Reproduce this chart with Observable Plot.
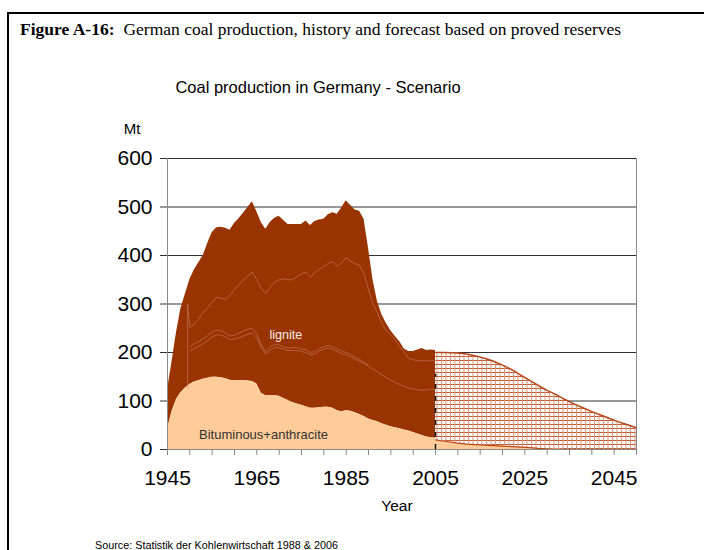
<!DOCTYPE html>
<html><head><meta charset="utf-8">
<script src="https://cdn.jsdelivr.net/npm/d3@7"></script>
<script src="https://cdn.jsdelivr.net/npm/@observablehq/plot@0.6"></script>
<style>
body{margin:0;background:#fff;}
#wrap{position:relative;width:704px;height:550px;overflow:hidden;font-family:"Liberation Sans",Arial,sans-serif;color:#000;}
.t{position:absolute;white-space:nowrap;line-height:1;}
#frame{position:absolute;left:7px;top:12px;width:720px;height:600px;border-top:2px solid #000;border-left:2px solid #000;}
#chart{position:absolute;left:0;top:0;}
</style></head><body>
<div id="wrap">
<div id="chart"></div>
<div id="frame"></div>
<div class="t" style="left:20px;top:21px;font-family:'Liberation Serif','Times New Roman',serif;font-size:17.5px;line-height:17px;"><b>Figure A-16:</b><span style="margin-left:9px">German coal production, history and forecast based on proved reserves</span></div>
<div class="t" style="left:318px;top:87px;transform:translate(-50%,-50%);font-size:16.5px;">Coal production in Germany - Scenario</div>
<div class="t" style="left:132px;top:128px;transform:translate(-50%,-50%);font-size:15px;">Mt</div>
<div class="t" style="left:397px;top:506px;transform:translate(-50%,-50%);font-size:15.5px;">Year</div>
<div class="t" style="left:95px;top:545px;transform:translate(0,-50%);font-size:10.8px;">Source: Statistik der Kohlenwirtschaft 1988 &amp; 2006</div>
</div>
<script>
// ---- data ----
const histYears = [1945,1946,1947,1948,1949,1950,1951,1952,1953,1954,1955,1956,1957,1958,1959,1960,1961,1962,1963,1964,1965,1966,1967,1968,1969,1970,1971,1972,1973,1974,1975,1976,1977,1978,1979,1980,1981,1982,1983,1984,1985,1986,1987,1988,1989,1990,1991,1992,1993,1994,1995,1996,1997,1998,1999,2000,2001,2002,2003,2004,2005];
const histTotal = [122,180,240,290,320,350,370,385,400,425,447,457,458,456,452,466,476,487,499,511,490,468,454,468,477,481,472,464,464,464,464,471,462,470,473,475,484,488,485,498,513,503,494,491,475,415,350,305,278,260,245,233,222,207,202,202,205,208,204,205,204];
const histBitum = [41,78,103,117,127,134,139,142,145,147,149,149,148,146,143,142,142,142,141,140,135,116,111,111,111,110,105,101,97,94,91,88,85,85,86,87,87,85,80,78,80,79,76,72,68,63,60,57,53,50,47,45,43,40,38,35,32,29,26,24,23];

const fcYears = [2005,2007,2010,2012,2014,2016,2018,2020,2022,2024,2026,2028,2030,2032,2034,2036,2038,2040,2042,2044,2046,2048,2050];
const fcTotal = [200,200,199,197,193,188,182,174,165,154,143,132,122,113,103,94,86,78,71,64,57,51,45];
const fcBitum = [20,17,13,11,10,9,8,7,6,5,4,2.5,1.5,0.5,0,0,0,0,0,0,0,0,0];

// thin internal lines within lignite band [year, Mt]
const lineUpper = [[1949.5,127],[1949.5,300],[1950,252],[1951,258],[1952,270],[1953,282],[1954,293],[1955,304],[1956,314],[1957,312],[1958,309],[1959,318],[1960,330],[1961,340],[1962,350],[1963,358],[1964,366],[1965,350],[1966,332],[1967,322],[1968,335],[1969,345],[1970,350],[1971,352],[1972,350],[1973,350],[1974,356],[1975,362],[1976,366],[1977,355],[1978,365],[1979,372],[1980,377],[1981,384],[1982,387],[1983,378],[1984,385],[1985,396],[1986,388],[1987,383],[1988,380],[1989,362],[1990,330],[1991,300],[1992,282],[1993,260],[1994,245],[1995,236],[1996,226],[1997,212],[1998,200],[1999,188],[2000,185],[2001,183],[2002,183],[2003,183],[2004,183],[2005,183]];
const lineMidLow = [[1950,203],[1951,208],[1952,213],[1953,218],[1954,225],[1955,232],[1956,236],[1957,236],[1958,232],[1959,226],[1960,228],[1961,230],[1962,234],[1963,238],[1964,240],[1965,230],[1966,210],[1967,197],[1968,205],[1969,210],[1970,210],[1971,206],[1972,204],[1973,204],[1974,204],[1975,202],[1976,200],[1977,195],[1978,197],[1979,203],[1980,207],[1981,209],[1982,207],[1983,202],[1984,198],[1985,195],[1986,191],[1987,186],[1988,182],[1989,177],[1990,171],[1991,166],[1992,160],[1993,154],[1994,148],[1995,143],[1996,138],[1997,134],[1998,130],[1999,127],[2000,125],[2001,123],[2002,122],[2003,123],[2004,124],[2005,125]];
const lineMidHigh = [[1950,212],[1951,218],[1952,223],[1953,228],[1954,235],[1955,242],[1956,246],[1957,245],[1958,240],[1959,234],[1960,236],[1961,240],[1962,244],[1963,248],[1964,250],[1965,238],[1966,216],[1967,202],[1968,212],[1969,216],[1970,216],[1971,211],[1972,209],[1973,210],[1974,210],[1975,207],[1976,206],[1977,200],[1978,202],[1979,208],[1980,212],[1981,214],[1982,212],[1983,207],[1984,203],[1985,200],[1986,196],[1987,190],[1988,186],[1989,180],[1990,174]];

const yTicks = [0,100,200,300,400,500,600];
const xLabelYears = [1945,1965,1985,2005,2025,2045];
const xMinorTicks = [1945,1950,1955,1960,1965,1970,1975,1980,1985,1990,1995,2000,2005,2010,2015,2020,2025,2030,2035,2040,2045,2050];
const boundary = [{year:2005, from:0, to:155}];
const seriesLabels = [
  {year:1971.5, mt:236, text:"lignite"},
  {year:1966.5, mt:31, text:"Bituminous+anthracite"}
];

// ---- tables ----
const hist = histYears.map((year,i)=>({year, total:histTotal[i], bit:histBitum[i]}));
const fc = fcYears.map((year,i)=>({year, total:fcTotal[i], bit:fcBitum[i]}));

const thin = {x:d=>d[0], y:d=>d[1], stroke:"#c47a66", strokeWidth:0.8, strokeOpacity:0.8};

const chart = Plot.plot({
  width:704, height:550,
  marginLeft:167, marginRight:68, marginTop:158, marginBottom:101,
  x:{domain:[1945,2050]},
  y:{domain:[0,600]},
  style:{fontFamily:"'Liberation Sans', Arial, sans-serif", fontSize:"21px", background:"transparent", color:"#000", overflow:"visible"},
  marks:[
    Plot.gridY(yTicks.filter(d=>d>0), {stroke:"#333", strokeOpacity:1}),
    Plot.areaY(hist, {x:"year", y1:"bit", y2:"total", fill:"#993300"}),
    Plot.areaY(hist, {x:"year", y1:0, y2:"bit", fill:"#FFCC99"}),
    Plot.line(lineUpper, thin),
    Plot.line(lineMidLow, thin),
    Plot.line(lineMidHigh, thin),
    Plot.areaY(fc, {x:"year", y1:"bit", y2:"total", fill:"url(#hatch)"}),
    Plot.areaY(fc, {x:"year", y1:0, y2:"bit", fill:"#FFCC99"}),
    Plot.line(fc, {x:"year", y:"total", stroke:"#b8461a", strokeWidth:1.5}),
    Plot.line(fc, {x:"year", y:"bit", stroke:"#b8461a", strokeWidth:1.2}),
    Plot.ruleX(boundary, {x:"year", y1:"from", y2:"to", stroke:"#111", strokeWidth:1.5, strokeDasharray:"5,7"}),
    Plot.ruleX([1945,2050], {stroke:"#888"}),
    Plot.ruleY([0], {stroke:"#888"}),
    Plot.axisY({ticks:yTicks, tickSize:7, tickPadding:8, stroke:"#333", fontSize:21, tickFormat:d=>String(d), label:null}),
    Plot.axisX({ticks:xMinorTicks, tickSize:6, stroke:"#888", tickFormat:()=>"", label:null}),
    Plot.axisX({ticks:xLabelYears, tickSize:0, tickPadding:21, fontSize:21, tickFormat:d=>String(d), label:null}),
    Plot.text(seriesLabels.slice(0,1), {x:"year", y:"mt", text:"text", fill:"#f6ebe6", fontSize:12.5}),
    Plot.text(seriesLabels.slice(1), {x:"year", y:"mt", text:"text", fill:"#333", fontSize:13})
  ]
});

// hatch pattern for the forecast band
const defs = d3.select(chart).insert("defs", ":first-child");
const pat = defs.append("pattern").attr("id","hatch").attr("patternUnits","userSpaceOnUse").attr("width",4.5).attr("height",4);
pat.append("rect").attr("width",4.5).attr("height",4).attr("fill","#fff");
pat.append("line").attr("x1",0).attr("x2",4.5).attr("y1",0.5).attr("y2",0.5).attr("stroke","#c25a30").attr("stroke-width",1);
pat.append("line").attr("x1",0.5).attr("x2",0.5).attr("y1",0).attr("y2",4).attr("stroke","#d8957a").attr("stroke-width",1);

document.getElementById("chart").appendChild(chart);
</script>
</body></html>
